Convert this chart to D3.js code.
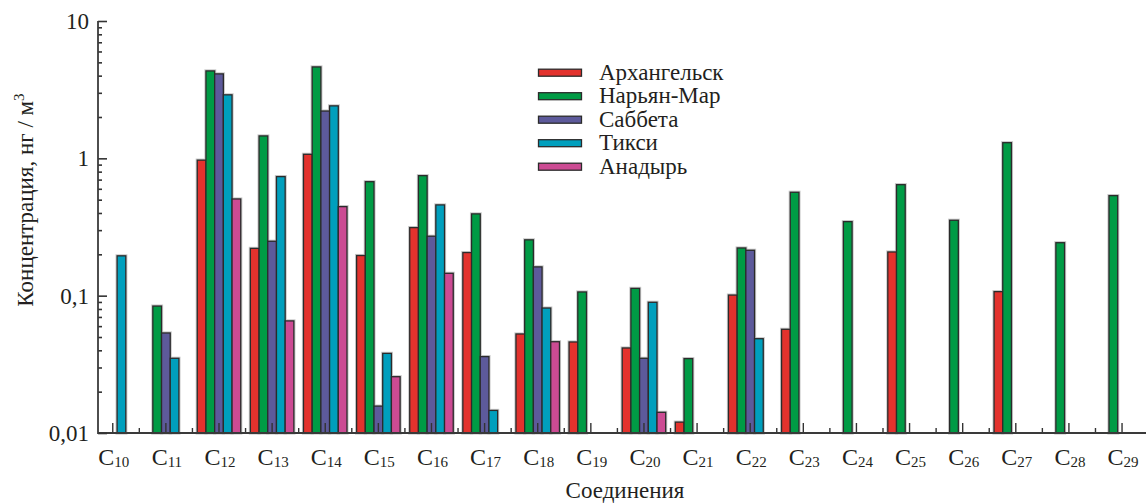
<!DOCTYPE html>
<html>
<head>
<meta charset="utf-8">
<script src="https://cdn.jsdelivr.net/npm/d3@7"></script>
<style>
  body { margin: 0; background: #fff; }
  svg { display: block; }
  text { font-family: "Liberation Serif", "Times New Roman", Tinos, "DejaVu Serif", "Noto Serif", serif; fill: #231f20; }
</style>
</head>
<body>
<svg id="chart" width="1146" height="503"></svg>
<script>
// Compounds C10 … C29 (subscript numbers)
const categories = ["10","11","12","13","14","15","16","17","18","19",
                    "20","21","22","23","24","25","26","27","28","29"];

// Sampling stations (legend order)
const stations = ["Архангельск", "Нарьян-Мар", "Саббета", "Тикси", "Анадырь"];

// Concentrations, ng/m³ (null = not detected)
const arkhangelsk = [null, null, 0.97, 0.221, 1.07, 0.196, 0.313, 0.206, 0.0526, 0.046,
                     0.0416, 0.012, 0.101, 0.0569, null, 0.208, null, 0.107, null, null];
const naryanMar   = [null, 0.084, 4.33, 1.456, 4.63, 0.676, 0.748, 0.394, 0.255, 0.1064,
                     0.113, 0.0348, 0.2225, 0.566, 0.346, 0.643, 0.354, 1.30, 0.243, 0.535];
const sabbeta     = [null, 0.0535, 4.12, 0.249, 2.21, 0.0157, 0.271, 0.036, 0.162, null,
                     0.035, null, 0.214, null, null, null, null, null, null, null];
const tiksi       = [0.195, 0.035, 2.90, 0.736, 2.41, 0.038, 0.458, 0.0146, 0.0813, null,
                     0.0895, null, 0.0486, null, null, null, null, null, null, null];
const anadyr      = [null, null, 0.506, 0.0655, 0.445, 0.0257, 0.1455, null, 0.0462, null,
                     0.01415, null, null, null, null, null, null, null, null, null];

const seriesValues = [arkhangelsk, naryanMar, sabbeta, tiksi, anadyr];
const colors = ["#e3322d", "#009b45", "#5d5a9b", "#009fbd", "#cc4b93"];

// Y axis ticks
const majorTicks = [0.01, 0.1, 1, 10];
const majorLabels = ["0,01", "0,1", "1", "10"];

const svg = d3.select("#chart");

const axisX = 98, baseY = 433, topY = 21, rightX = 1146;

const x = d3.scaleBand().domain(categories).range([86.2, 1148.6]).padding(0);
const groupWidth = 43.5;
const xInner = d3.scaleBand().domain(stations).range([0, groupWidth]).padding(0);
const groupStart = c => x(c) + (x.bandwidth() - groupWidth) / 2;

const y = d3.scaleLog().domain([0.01, 10]).range([baseY, topY]);

// Bars
const rows = [];
seriesValues.forEach((vals, si) => {
  vals.forEach((v, ci) => {
    if (v != null) rows.push({ cat: categories[ci], station: stations[si], value: v, color: colors[si] });
  });
});

const bars = svg.append("g");
// soft halo behind each bar outline
bars.selectAll("rect.halo").data(rows).join("rect")
  .attr("class", "halo")
  .attr("x", d => groupStart(d.cat) + xInner(d.station))
  .attr("y", d => y(d.value))
  .attr("width", xInner.bandwidth())
  .attr("height", d => baseY - y(d.value))
  .attr("fill", "none")
  .attr("stroke", "#c9c9c9")
  .attr("stroke-width", 3.2);
bars.selectAll("rect.bar").data(rows).join("rect")
  .attr("class", "bar")
  .attr("x", d => groupStart(d.cat) + xInner(d.station))
  .attr("y", d => y(d.value))
  .attr("width", xInner.bandwidth())
  .attr("height", d => baseY - y(d.value))
  .attr("fill", d => d.color)
  .attr("stroke", "#2b2b2b")
  .attr("stroke-width", 1.3);

// X axis: tall ticks at group centres, short ticks between groups
const xAxisG = svg.append("g");
xAxisG.selectAll("line.tall").data(categories).join("line")
  .attr("x1", c => x(c) + x.bandwidth() / 2).attr("x2", c => x(c) + x.bandwidth() / 2)
  .attr("y1", baseY).attr("y2", baseY - 10)
  .attr("stroke", "#333").attr("stroke-width", 1.4);
xAxisG.selectAll("line.short").data(categories.slice(1)).join("line")
  .attr("x1", c => x(c)).attr("x2", c => x(c))
  .attr("y1", baseY).attr("y2", baseY - 5)
  .attr("stroke", "#333").attr("stroke-width", 1.4);
xAxisG.append("line")
  .attr("x1", axisX).attr("x2", rightX).attr("y1", baseY).attr("y2", baseY)
  .attr("stroke", "#3a3a3a").attr("stroke-width", 2);

// Category labels C with subscript
const labels = xAxisG.selectAll("text.cat").data(categories).join("text")
  .attr("class", "cat")
  .attr("x", c => x(c) + x.bandwidth() / 2 + 1)
  .attr("y", 465)
  .attr("text-anchor", "middle");
labels.append("tspan").attr("font-size", 24).text("C");
labels.append("tspan").attr("font-size", 15).attr("dy", 2).text(c => c);

// Y axis
const minorTicks = [];
for (let e = -2; e < 1; e++) {
  for (let m = 2; m <= 9; m++) minorTicks.push(m * Math.pow(10, e));
}
const yAxis = svg.append("g").attr("transform", `translate(${axisX},0)`);
yAxis.call(d3.axisLeft(y).tickValues(majorTicks).tickSize(-9).tickPadding(9)
  .tickFormat((d, i) => majorLabels[i]));
yAxis.call(g => g.select(".domain").remove());
yAxis.attr("font-family", null);
yAxis.selectAll(".tick line").attr("stroke", "#333").attr("stroke-width", 1.6);
yAxis.selectAll(".tick text").attr("font-size", 23).attr("fill", "#231f20");
const yMinor = svg.append("g").attr("transform", `translate(${axisX},0)`);
yMinor.call(d3.axisLeft(y).tickValues(minorTicks).tickSize(-4).tickFormat(""));
yMinor.call(g => g.select(".domain").remove());
yMinor.selectAll(".tick line").attr("stroke", "#333").attr("stroke-width", 1.6);
svg.append("line")
  .attr("x1", axisX).attr("x2", axisX).attr("y1", topY).attr("y2", baseY + 1)
  .attr("stroke", "#3a3a3a").attr("stroke-width", 1.8);

// Axis titles
svg.append("text")
  .attr("x", (axisX + rightX) / 2 + 3)
  .attr("y", 498)
  .attr("text-anchor", "middle")
  .attr("font-size", 23)
  .text("Соединения");

const yTitle = svg.append("text")
  .attr("transform", "translate(33,200) rotate(-90)")
  .attr("text-anchor", "middle")
  .attr("font-size", 23);
yTitle.append("tspan").text("Концентрация, нг / м");
yTitle.append("tspan").attr("font-size", 15).attr("dy", -9).text("3");

// Legend
const legend = svg.append("g");
const legendY = d3.scalePoint().domain(stations).range([72.7, 166.7]);
legend.selectAll("rect").data(stations).join("rect")
  .attr("x", 538.5).attr("y", s => legendY(s) - 3.5)
  .attr("width", 43).attr("height", 7)
  .attr("fill", (s, i) => colors[i])
  .attr("stroke", "#2b2b2b").attr("stroke-width", 1.3);
legend.selectAll("text").data(stations).join("text")
  .attr("x", 599).attr("y", s => legendY(s) + 7)
  .attr("font-size", 23)
  .text(s => s);
</script>
</body>
</html>
